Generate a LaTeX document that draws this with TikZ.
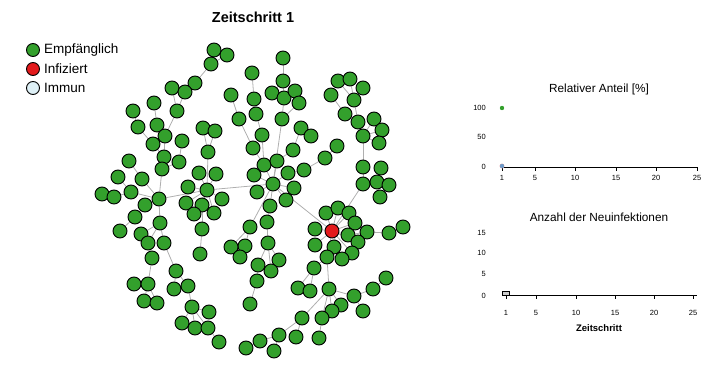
\documentclass[tikz,border=0pt]{standalone}
\usepackage{fontspec}
\setmainfont{Liberation Sans}
\usepackage{tikz}
\usetikzlibrary{positioning,backgrounds}

\definecolor{susgreen}{RGB}{51,160,44}
\definecolor{infred}{RGB}{227,26,28}
\definecolor{immblue}{RGB}{222,240,246}
\definecolor{edgegray}{RGB}{175,175,175}
\definecolor{dotblue}{RGB}{110,155,200}

\begin{document}
\begin{tikzpicture}[x=1pt,y=-1pt,
  sus/.style={circle,draw=black,fill=susgreen,minimum size=14pt,inner sep=0pt,line width=0.9pt},
  inf/.style={sus,fill=infred},
  imm/.style={sus,fill=immblue},
  edge/.style={draw=edgegray,line width=0.8pt},
  lbl/.style={font=\fontsize{13.5}{15}\selectfont,anchor=west,inner sep=0pt},
  ticklbl/.style={font=\fontsize{7.5}{8}\selectfont,inner sep=0pt},
  ctitle/.style={font=\fontsize{11.8}{13}\selectfont,inner sep=0pt}]
  \useasboundingbox (0,0) rectangle (726,380);

  % title and legend
  \node[font=\bfseries\fontsize{14.5}{16}\selectfont] (title) at (253,17) {Zeitschritt 1};
  \node[sus,minimum size=13pt] (lsus) at (33,50) {};
  \node[inf,minimum size=13pt] (linf) at (33,69) {};
  \node[imm,minimum size=13pt] (limm) at (33,88) {};
  \node[lbl,right=4pt of lsus] {Empfänglich};
  \node[lbl,right=4pt of linf] {Infiziert};
  \node[lbl,right=4pt of limm] {Immun};

  % network nodes
  \foreach \n/\x/\y in {a1/214/50,a2/227/55,a3/211/64,a4/195/83,a5/172/88,a6/185/92,
      a7/177/111,a8/154/103,a9/157/125,a10/133/111,a11/138/127,a12/165/136,a13/153/144,
      a14/182/141,a15/164/157,a16/162/169,a17/179/162,a18/203/128,a19/215/131,a20/208/152,
      a21/231/95,a22/239/119,
      b1/129/161,b2/118/177,b3/142/179,b4/102/194,b5/114/197,b6/131/192,b7/159/199,
      b8/145/205,b9/135/217,b10/120/231,b11/160/223,b12/141/234,b13/148/243,b14/164/243,
      b15/152/258,b16/134/284,b17/148/284,b18/144/301,b19/157/303,b20/176/271,b21/174/289,
      b22/188/286,b23/192/307,b24/209/312,b25/182/323,b26/195/328,b27/208/328,b28/219/342,
      c1/199/173,c2/216/174,c3/188/187,c4/207/190,c5/222/199,c6/186/203,c7/202/205,
      c8/194/214,c9/214/213,c10/202/229,c11/200/254,
      d1/252/73,d2/254/99,d3/256/114,d4/262/135,d5/253/148,d6/264/165,d7/283/58,d8/283/81,
      d9/272/93,d10/284/98,d11/295/91,d12/299/103,d13/282/119,d14/301/128,d15/311/136,
      d16/293/150,d17/277/161,d18/254/175,d19/273/184,d20/288/173,d21/304/170,d22/325/158,
      d23/337/146,d24/257/192,d25/294/188,d26/286/200,d27/270/206,d28/267/222,d29/268/243,
      d30/258/265,d31/279/260,d32/271/271,d33/257/281,d34/250/304,d35/250/227,d36/245/246,
      d37/231/247,d38/240/257,
      e1/338/81,e2/350/79,e3/363/88,e4/331/95,e5/354/100,e6/345/114,e7/358/122,e8/374/119,
      e9/382/130,e10/363/136,e11/379/143,e12/363/167,e13/381/168,e14/363/184,e15/377/182,
      e16/389/185,e17/380/197,
      f1/326/213,f2/338/208,f3/349/213,f4/355/223,f5/315/229,f6/348/235,f7/367/232,
      f8/389/233,f9/403/227,f10/315/245,f11/334/247,f12/358/242,f13/352/253,f14/342/259,
      f15/327/257,f16/314/268,f17/298/288,f18/310/291,
      g1/329/289,g2/354/296,g3/373/289,g4/386/278,g5/363/311,g6/341/305,g7/332/311,
      g8/322/318,g9/319/338,g10/302/318,g11/296/337,g12/279/335,g13/260/341,g14/246/348,
      g15/274/351}
    \node[sus] (\n) at (\x,\y) {};
  \node[inf] (r) at (332,231) {};

  % connections
  \begin{pgfonlayer}{background}
  \foreach \a/\b in {a1/a3,a2/a3,a3/a4,a4/a6,a5/a7,a6/a7,a7/a12,a8/a9,a9/a12,a12/a15,
      a10/a11,a11/a15,a13/a15,a14/a17,a17/a16,a15/a16,a16/b7,a18/a20,a19/a20,a20/c4,
      a21/a22,a22/d5,
      b1/b3,b3/b7,b2/b6,b6/b7,b4/b5,b5/b6,b8/b7,b9/b8,b10/b9,b7/b11,b11/b12,b11/b13,
      b11/b14,b13/b15,b15/b17,b16/b17,b17/b18,b17/b19,b14/b20,b20/b21,b20/b22,b22/b23,
      b23/b24,b23/b25,b23/b26,b23/b27,b27/b28,b7/c4,
      c4/c1,c4/c2,c4/c3,c4/c5,c4/c6,c4/c7,c4/c8,c4/c9,c7/c10,c10/c11,c4/d19,
      d1/d2,d2/d3,d3/d4,d4/d6,d5/d6,d6/d19,d7/d8,d8/d9,d8/d10,d8/d11,d10/d13,d12/d13,
      d13/d19,d14/d16,d15/d14,d16/d17,d17/d19,d18/d19,d20/d19,d21/d20,d22/d21,d23/d22,
      d24/d19,d25/d19,d26/d19,d27/d19,d27/d28,d28/d29,d29/d30,d29/d31,d29/d32,d30/d33,
      d33/d34,d35/d19,d35/d36,d35/d37,d36/d38,d19/r,
      e1/e5,e2/e5,e3/e5,e4/e6,e5/e7,e6/e7,e7/e10,e8/e10,e9/e10,e11/e10,e10/e12,e12/e14,
      e14/e15,e15/e13,e15/e16,e15/e17,e14/r,
      r/f1,r/f2,r/f3,r/f4,r/f5,r/f6,f6/f7,f7/f8,f8/f9,r/f10,r/f11,r/f12,r/f13,r/f14,
      r/f15,f15/g1,f15/f16,f16/f17,f16/f18,
      g1/g2,g2/g3,g3/g4,g2/g5,g1/g6,g1/g7,g1/g8,g8/g9,g1/g10,g10/g11,g10/g12,g12/g13,
      g13/g14,g12/g15}
    \draw[edge] (\a) -- (\b);
  \end{pgfonlayer}

  % share chart
  \node[ctitle] (sharetitle) at (599,89) {Relativer Anteil [\%]};
  \draw[line width=0.8pt] (502,167) -- (697,167);
  \foreach \t/\x in {1/502,5/535,10/575,15/616,20/656,25/697} {
    \draw[line width=0.8pt] (\x,167) -- (\x,171);
    \node[ticklbl] at (\x,178) {\t};
  }
  \foreach \v/\y in {100/108,50/137,0/167}
    \node[ticklbl,anchor=east] at (486,\y) {\v};
  \fill[infred!45] (502,166) circle (2.4pt);
  \fill[dotblue] (502,166) circle (2.2pt);
  \fill[susgreen] (502,108) circle (2.2pt);

  % new infections chart
  \node[ctitle] (newtitle) at (599,217) {Anzahl der Neuinfektionen};
  \draw[line width=0.8pt] (502,295) -- (697,295);
  \foreach \t/\x in {1/506,5/536,10/576,15/615,20/654,25/693} {
    \draw[line width=0.8pt] (\x,295) -- (\x,299);
    \node[ticklbl] at (\x,313) {\t};
  }
  \foreach \v/\y in {15/233,10/253,5/274,0/296}
    \node[ticklbl,anchor=east] at (486,\y) {\v};
  \draw[fill=gray!40,line width=0.7pt] (502,295) rectangle (509,291);
  \node[font=\bfseries\fontsize{9.5}{11}\selectfont] (xlabel) at (599,328) {Zeitschritt};
\end{tikzpicture}
\end{document}
